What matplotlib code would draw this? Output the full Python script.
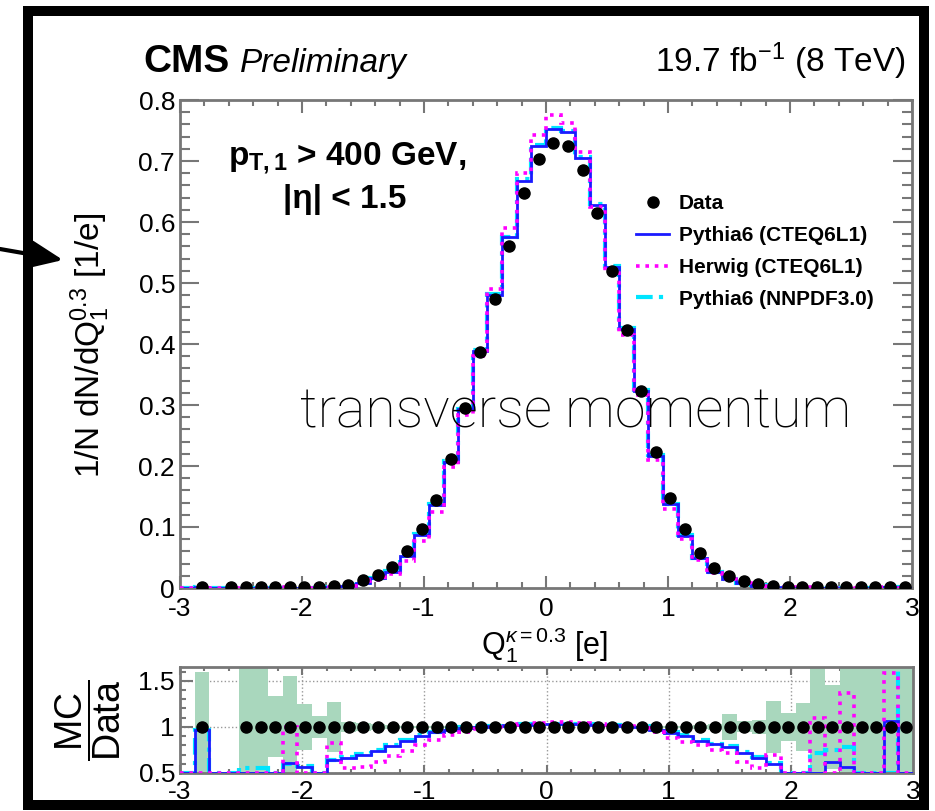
import numpy as np
import matplotlib.pyplot as plt
from matplotlib.patches import Rectangle, FancyArrowPatch
from matplotlib.ticker import MultipleLocator

plt.rcParams['font.family'] = ['Liberation Sans', 'DejaVu Sans']
plt.rcParams['axes.unicode_minus'] = False
plt.rcParams['mathtext.fontset'] = 'custom'
plt.rcParams['mathtext.rm'] = 'Liberation Sans'
plt.rcParams['mathtext.it'] = 'Liberation Sans:italic'
plt.rcParams['mathtext.bf'] = 'Liberation Sans:bold'

# binning: 50 bins of Q in [-3, 3]
edges = np.linspace(-3, 3, 51)
centers = 0.5 * (edges[1:] + edges[:-1])

# 1/N dN/dQ (main panel)
data = [np.nan, 0.001, np.nan, 0.001, 0.001, 0.001, 0.001, 0.001, 0.001, 0.0015,
        0.0025, 0.005, 0.013, 0.021, 0.034, 0.061, 0.096, 0.144, 0.212, 0.295,
        0.387, 0.473, 0.561, 0.647, 0.703, 0.730, 0.725, 0.685, 0.615, 0.519,
        0.423, 0.323, 0.223, 0.147, 0.096, 0.058, 0.032, 0.019, 0.012, 0.006,
        0.003, 0.002, 0.001, 0.001, 0.001, 0.001, 0.001, 0.001, 0.001, 0.001]
pythia = [0, 0.001, 0, 0, 0, 0, 0, 0.0005, 0.0005, 0,
          0.0016, 0.0033, 0.009, 0.016, 0.027, 0.052, 0.087, 0.136, 0.207, 0.293,
          0.389, 0.481, 0.575, 0.668, 0.725, 0.752, 0.748, 0.705, 0.628, 0.527,
          0.425, 0.323, 0.217, 0.137, 0.086, 0.049, 0.026, 0.015, 0.0087, 0.004,
          0.0018, 0, 0, 0, 0.0006, 0.0006, 0, 0, 0.001, 0]
herwig = [0, 0, 0, 0, 0, 0, 0, 0.001, 0, 0,
          0.002, 0.0028, 0.0073, 0.013, 0.023, 0.045, 0.077, 0.124, 0.199, 0.284,
          0.380, 0.490, 0.590, 0.680, 0.743, 0.775, 0.762, 0.715, 0.625, 0.520,
          0.415, 0.316, 0.210, 0.129, 0.081, 0.046, 0.024, 0.014, 0.0082, 0.0035,
          0.0017, 0.0013, 0, 0.0011, 0, 0.0014, 0, 0, 0.0016, 0]
nnpdf = [0, 0.001, 0, 0, 0.0005, 0.0005, 0, 0, 0, 0,
         0.0015, 0.0034, 0.0092, 0.0165, 0.028, 0.053, 0.088, 0.137, 0.208, 0.294,
         0.390, 0.482, 0.576, 0.670, 0.727, 0.754, 0.750, 0.707, 0.630, 0.528,
         0.426, 0.324, 0.218, 0.138, 0.087, 0.050, 0.027, 0.0155, 0.009, 0.0042,
         0.002, 0, 0, 0.0007, 0.0008, 0.0008, 0, 0, 0, 0.002]

# MC / Data (ratio panel)
ratio_data = [np.nan, 1, np.nan, np.nan] + [1] * 46
ratio_pythia = [0.5, 0.97, 0.5, 0.5, 0.5, 0.5, 0.5, 0.61, 0.57, 0.5,
                0.645, 0.66, 0.70, 0.74, 0.79, 0.85, 0.90, 0.94, 0.97, 0.99,
                1.0, 1.01, 1.02, 1.025, 1.03, 1.03, 1.03, 1.03, 1.025, 1.02,
                1.01, 1.0, 0.97, 0.93, 0.90, 0.85, 0.81, 0.78, 0.72, 0.66,
                0.60, 0.5, 0.5, 0.5, 0.62, 0.57, 0.5, 0.5, 1.06, 0.5]
ratio_herwig = [0.5, 0.5, 0.5, 0.5, 0.5, 0.5, 0.5, 1.0, 0.5, 0.5,
                0.83, 0.55, 0.56, 0.62, 0.68, 0.74, 0.80, 0.86, 0.91, 0.95,
                0.98, 1.0, 1.02, 1.03, 1.04, 1.05, 1.05, 1.04, 1.03, 1.02,
                1.01, 0.99, 0.94, 0.88, 0.84, 0.80, 0.75, 0.72, 0.62, 0.55,
                0.70, 0.5, 0.5, 1.1, 0.5, 1.37, 0.5, 0.5, 1.58, 0.5]
ratio_nnpdf = [0.5, 0.97, 0.5, 0.5, 0.55, 0.55, 0.5, 0.60, 0.58, 0.5,
               0.64, 0.67, 0.71, 0.75, 0.80, 0.86, 0.91, 0.95, 0.98, 1.0,
               1.005, 1.015, 1.025, 1.03, 1.035, 1.035, 1.035, 1.035, 1.03, 1.025,
               1.015, 1.005, 0.975, 0.94, 0.91, 0.86, 0.82, 0.79, 0.73, 0.67,
               0.61, 0.5, 0.5, 0.72, 0.75, 0.78, 0.5, 0.5, 0.5, 1.8]
ratio_err = [0, 0.6, 0, 0, 0.8, 0.8, 0.33, 0.55, 0.25, 0.12,
             0.27, 0.05, 0.04, 0.03, 0.02, 0.015, 0.01, 0.01, 0.008, 0.006,
             0.005, 0.005, 0.004, 0.004, 0.004, 0.004, 0.004, 0.004, 0.004, 0.005,
             0.005, 0.006, 0.008, 0.01, 0.015, 0.02, 0.03, 0.14, 0.06, 0.08,
             0.28, 0.15, 0.26, 0.8, 0.46, 0.8, 0.8, 0.8, 0.8, 0.8]

xticks = [-3, -2, -1, 0, 1, 2, 3]
xticklabels = ['-3', '-2', '-1', '0', '1', '2', '3']
yticks = [0, 0.1, 0.2, 0.3, 0.4, 0.5, 0.6, 0.7, 0.8]
yticklabels = ['0', '0.1', '0.2', '0.3', '0.4', '0.5', '0.6', '0.7', '0.8']
rticks = [0.5, 1, 1.5]
rticklabels = ['0.5', '1', '1.5']

W, H = 935, 811
fig = plt.figure(figsize=(W / 100, H / 100), dpi=100)
fc = '#777777'
blue, magenta, cyan = '#1a1aff', '#ff00ff', '#00e5ff'

def px(x0, y0, x1, y1):
    return [x0 / W, 1 - y1 / H, (x1 - x0) / W, (y1 - y0) / H]

def ftext(x, y, s, **kw):
    return fig.text(x / W, 1 - y / H, s, **kw)

ax = fig.add_axes(px(180, 100, 912, 588))
axr = fig.add_axes(px(180, 667, 913, 773))

# main panel
ax.stairs(nnpdf, edges, color=cyan, lw=3, linestyle=(0, (4, 1.5, 1, 1.5)), zorder=2)
ax.stairs(pythia, edges, color=blue, lw=2, zorder=3)
ax.stairs(herwig, edges, color=magenta, lw=2.6, linestyle=(0, (1, 1.6)), zorder=4)
ax.plot(centers, data, 'o', color='black', ms=8, zorder=5)
ax.set_xlim(-3, 3)
ax.set_ylim(0, 0.8)

# legend
ax.plot([], [], 'o', color='black', ms=8, label='Data')
ax.plot([], [], color=blue, lw=2, label='Pythia6 (CTEQ6L1)')
ax.plot([], [], color=magenta, lw=2.6, linestyle=(0, (1, 1.6)), label='Herwig (CTEQ6L1)')
ax.plot([], [], color=cyan, lw=3, linestyle=(0, (4, 1.5, 1, 1.5)), label='Pythia6 (NNPDF3.0)')
h, l = ax.get_legend_handles_labels()
leg = ax.legend(h[-4:], l[-4:], loc='upper left', bbox_to_anchor=((636 - 180) / 732, 1 - (194 - 100) / 488),
                frameon=False, prop={'weight': 'bold', 'size': 15}, handlelength=1.6,
                handletextpad=0.45, labelspacing=0.62, borderpad=0, borderaxespad=0)

ftext(228, 165, r'$\mathbf{p}_{\mathbf{T,1}}$ > 400 GeV,', fontsize=24, fontweight='bold',
      va='baseline')
ftext(283, 208, '|η| < 1.5', fontsize=24, fontweight='bold', va='baseline')

# ratio panel
axr.bar(centers, 2 * np.array(ratio_err), bottom=1 - np.array(ratio_err), width=0.12,
        color='#a9d7bd', lw=0, zorder=1)
axr.stairs(ratio_nnpdf, edges, color=cyan, lw=3, linestyle=(0, (4, 1.5, 1, 1.5)), zorder=2,
           baseline=None)
axr.stairs(ratio_pythia, edges, color=blue, lw=2, zorder=3, baseline=None)
axr.stairs(ratio_herwig, edges, color=magenta, lw=2.6, linestyle=(0, (1, 1.6)), zorder=4,
           baseline=None)
axr.plot(centers, ratio_data, 'o', color='black', ms=8, zorder=5, clip_on=False)
axr.set_xlim(-3, 3)
axr.set_ylim(0.5, 1.65)
axr.grid(True, color='#999999', ls=':', lw=1)
axr.set_axisbelow(True)

for a in (ax, axr):
    for s in a.spines.values():
        s.set_color(fc)
        s.set_linewidth(2)
    a.set_xticks(xticks)
    a.set_xticklabels(xticklabels)
    a.xaxis.set_minor_locator(MultipleLocator(0.2))
    a.tick_params(which='both', direction='in', top=True, right=True, color=fc, width=1.5,
                  labelsize=19)
    a.tick_params(axis='y', pad=3.6)

ax.set_yticks(yticks)
ax.set_yticklabels(yticklabels)
ax.yaxis.set_minor_locator(MultipleLocator(0.02))
ax.tick_params(axis='y', which='major', length=14)
ax.tick_params(axis='y', which='minor', length=7)
ax.tick_params(axis='x', which='major', length=9, pad=6.5)
ax.tick_params(axis='x', which='minor', length=4)

axr.set_yticks(rticks)
axr.set_yticklabels(rticklabels)
axr.yaxis.set_minor_locator(MultipleLocator(0.1))
axr.tick_params(axis='y', which='major', length=9)
axr.tick_params(axis='y', which='minor', length=4)
axr.tick_params(axis='x', which='major', length=6, pad=5)
axr.tick_params(axis='x', which='minor', length=3)

# axis titles
ftext(90, 345, r'1/N dN/dQ$_{1}^{0.3}$ [1/e]', rotation=90, ha='center', va='center', fontsize=24)
ftext(545, 645, r'Q$_{1}^{\kappa=0.3}$ [e]', ha='center', va='center', fontsize=22)
ftext(88, 720, r'$\dfrac{\mathrm{MC}}{\mathrm{Data}}$', rotation=90, ha='center', va='center',
      fontsize=27)

# header
ftext(143, 72, 'CMS', fontsize=28, fontweight='bold', va='baseline')
ftext(240, 72, 'Preliminary', fontsize=24, style='italic', va='baseline')
ftext(905, 72, r'19.7 fb$^{\mathrm{-1}}$ (8 TeV)', fontsize=24, ha='right', va='baseline')

# overlay annotation
ftext(300, 427, 'transverse momentum', fontsize=40, va='baseline',
      family=['Roboto', 'DejaVu Sans'], fontweight='light')

# outer frame and arrow
fig.add_artist(Rectangle((28 / W, 6 / H), (924 - 28) / W, (805 - 11) / H, transform=fig.transFigure,
                         fill=False, ec='black', lw=7.2))
fig.add_artist(FancyArrowPatch((0, 1 - 249 / H), (63 / W, 1 - 260 / H), transform=fig.transFigure,
                               arrowstyle='-|>,head_length=0.4,head_width=0.17', mutation_scale=50,
                               color='black', lw=3, shrinkA=0, shrinkB=0))

plt.savefig('out.png', dpi=100)
